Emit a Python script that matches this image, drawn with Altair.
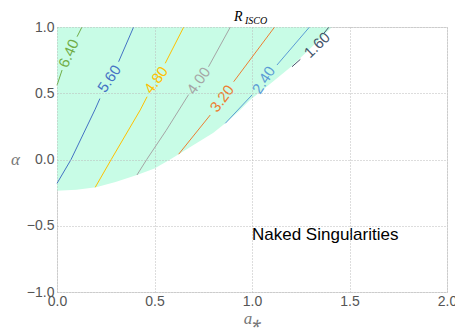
import altair as alt
import pandas as pd

# ---- data ----
boundary_a = [0, 0.1, 0.2, 0.3, 0.41, 0.5, 0.58, 0.624, 0.7, 0.8, 0.863, 0.93, 0.99, 1.1, 1.2, 1.3, 1.41]
boundary_alpha = [-0.235, -0.228, -0.21, -0.17, -0.117, -0.067, 0.0, 0.04, 0.11, 0.20, 0.273, 0.36, 0.45, 0.58, 0.70, 0.84, 1.0]

levels = ["6.40", "5.60", "4.80", "4.00", "3.20", "2.40", "1.60"]
level_colors = ["#70ad47", "#4472c4", "#ffc000", "#a5a5a5", "#ed7d31", "#5b9bd5", "#44546a"]

# contour segments (broken where the inline labels sit): level -> [segment points]
c640 = [[(0, 0.56), (0.026, 0.675)], [(0.103, 0.927), (0.128, 1.0)]]
c560 = [[(0, -0.18), (0.072, 0.0), (0.196, 0.38), (0.22, 0.46)], [(0.316, 0.738), (0.393, 1.0)]]
c480 = [[(0.196, -0.21), (0.278, 0.0), (0.427, 0.374), (0.462, 0.474)], [(0.555, 0.726), (0.65, 1.0)]]
c400 = [[(0.41, -0.117), (0.46, 0.0), (0.56, 0.22), (0.675, 0.49)], [(0.777, 0.70), (0.889, 1.0)]]
c320 = [[(0.624, 0.04), (0.786, 0.336)], [(0.906, 0.587), (1.116, 1.0)]]
c240 = [[(0.863, 0.273), (1.0, 0.487)], [(1.128, 0.713), (1.295, 1.0)]]
c160 = [[(1.205, 0.70), (1.248, 0.756)], [(1.37, 0.955), (1.395, 1.0)]]
contours = [c640, c560, c480, c400, c320, c240, c160]

label_a = [0.06, 0.268, 0.508, 0.726, 0.846, 1.06, 1.333]
label_alpha = [0.80, 0.61, 0.60, 0.595, 0.46, 0.60, 0.864]
label_angle = [294, 304, 306, 305, 307, 303, 316]

note_text = ["Naked Singularities"]
note_a = [1.0]
note_alpha = [-0.61]

x_ticks = [0, 0.5, 1.0, 1.5, 2.0]
y_ticks = [-1.0, -0.5, 0.0, 0.5, 1.0]

# ---- tables ----
bdf = pd.DataFrame({"a": boundary_a, "alpha": boundary_alpha})

rows = []
for lev, segs in zip(levels, contours):
    for si, seg in enumerate(segs):
        for oi, (a, al) in enumerate(seg):
            rows.append({"level": lev, "seg": f"{lev}-{si}", "o": oi, "a": a, "alpha": al})
cdf = pd.DataFrame(rows)

ldf = pd.DataFrame({"level": levels, "a": label_a, "alpha": label_alpha, "angle": label_angle})
ndf = pd.DataFrame({"text": note_text, "a": note_a, "alpha": note_alpha})

xs = alt.Scale(domain=[0, 2], nice=False, zero=False)
ys = alt.Scale(domain=[-1, 1], nice=False, zero=False)
cs = alt.Scale(domain=levels, range=level_colors)

xaxis = alt.Axis(values=x_ticks, format=".1f", title="a⁎", grid=True, ticks=False, domain=False,
                 labelFont="Liberation Sans", labelFontSize=14, labelColor="#555555", labelPadding=2,
                 labelFlush=False, labelOverlap=False,
                 titleFont="Liberation Serif", titleFontStyle="italic", titleFontWeight="normal",
                 titleFontSize=17, titleColor="#777777", titleX=195, titleY=31,
                 titleBaseline="alphabetic", titleAlign="center",
                 gridColor="#bbbbbb", gridDash=[1, 2], gridWidth=1, zindex=1)
yaxis = alt.Axis(values=y_ticks, format=".1f", title="α", grid=True, ticks=False, domain=False,
                 labelFont="Liberation Sans", labelFontSize=14, labelColor="#555555", labelPadding=3,
                 labelFlush=False, labelOverlap=False,
                 titleFont="Liberation Serif", titleFontStyle="italic", titleFontWeight="normal",
                 titleFontSize=17, titleColor="#777777", titleAngle=0, titleX=-42, titleY=132,
                 titleBaseline="middle", titleAlign="center",
                 gridColor="#bbbbbb", gridDash=[1, 2], gridWidth=1, zindex=1)

area = alt.Chart(bdf).mark_area(color="#c8fce6", opacity=1).encode(
    x=alt.X("a:Q", scale=xs, axis=xaxis),
    y=alt.Y("alpha:Q", scale=ys, axis=yaxis),
    y2=alt.datum(1),
)

lines = alt.Chart(cdf).mark_line(strokeWidth=1).encode(
    x=alt.X("a:Q", scale=xs),
    y=alt.Y("alpha:Q", scale=ys),
    color=alt.Color("level:N", scale=cs, legend=None),
    detail="seg:N",
    order="o:Q",
)

labels = alt.Chart(ldf).mark_text(font="Liberation Sans", fontSize=15, align="center", baseline="middle").encode(
    x=alt.X("a:Q", scale=xs),
    y=alt.Y("alpha:Q", scale=ys),
    text="level:N",
    angle=alt.Angle("angle:Q", scale=None),
    color=alt.Color("level:N", scale=cs, legend=None),
)

note = alt.Chart(ndf).mark_text(font="Liberation Sans", fontSize=17, align="left", baseline="alphabetic",
                                color="#000000").encode(
    x=alt.X("a:Q", scale=xs),
    y=alt.Y("alpha:Q", scale=ys),
    text="text:N",
)

title_r = alt.Chart(pd.DataFrame({"t": ["R"]})).mark_text(
    font="Liberation Serif", fontStyle="italic", fontSize=14, align="left", baseline="alphabetic", color="#000000"
).encode(x=alt.value(177), y=alt.value(-6), text="t:N")
title_sub = alt.Chart(pd.DataFrame({"t": ["ISCO"]})).mark_text(
    font="Liberation Serif", fontStyle="italic", fontSize=10, align="left", baseline="alphabetic", color="#000000"
).encode(x=alt.value(188), y=alt.value(-3), text="t:N")

chart = alt.layer(area, lines, labels, note, title_r, title_sub).properties(
    width=390, height=265,
    autosize=alt.AutoSizeParams(type="none"),
    padding={"left": 49, "top": 19, "right": 8, "bottom": 40},
).configure_view(stroke="#cccccc", strokeWidth=1).configure(background="white")

chart.save("out.html", embed_options={"renderer": "svg", "actions": False})
